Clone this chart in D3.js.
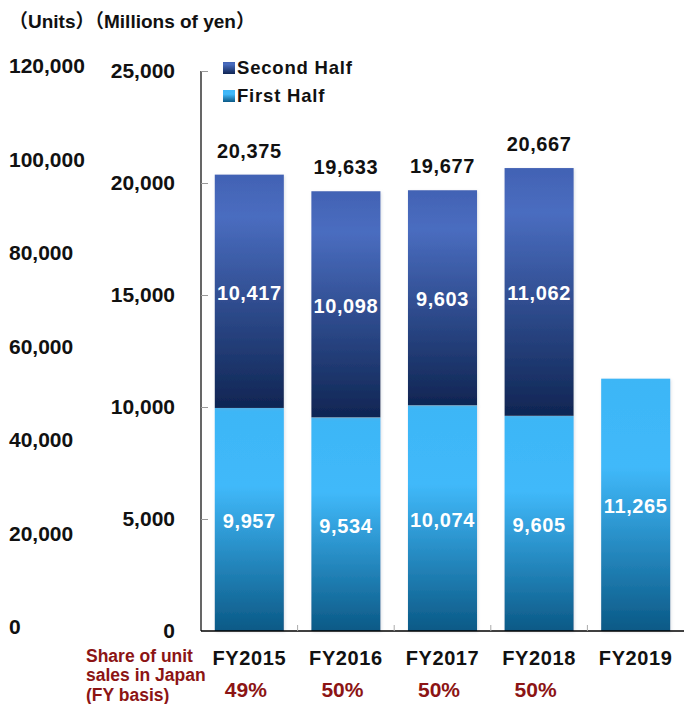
<!DOCTYPE html>
<html>
<head>
<meta charset="utf-8">
<script src="https://cdn.jsdelivr.net/npm/d3@7"></script>
<style>
  html, body { margin: 0; padding: 0; background: #fff; }
  svg { display: block; font-family: "Liberation Sans", Arial, "Noto Sans CJK JP", sans-serif; font-weight: bold; }
</style>
</head>
<body>
<svg id="chart" width="684" height="704"></svg>
<script>
// Fiscal-year sales, in millions of yen, split by half year
const fiscalYears = ["FY2015", "FY2016", "FY2017", "FY2018", "FY2019"];
const firstHalf  = [9957, 9534, 10074, 9605, 11265];
const secondHalf = [10417, 10098, 9603, 11062, null];
const fullYear   = [20375, 19633, 19677, 20667, null];
const japanShare = ["49%", "50%", "50%", "50%", null];

const yenTicks  = [0, 5000, 10000, 15000, 20000, 25000];
const unitTicks = [0, 20000, 40000, 60000, 80000, 100000, 120000];

const seriesNames = ["Second Half", "First Half"];

const svg = d3.select("#chart");
const fmt = d3.format(",");
const darkRed = "#8c1414";
const fontStack = "'Liberation Sans', Arial, 'Noto Sans CJK JP', sans-serif";

// Gradients and soft bar shadow
const defs = svg.append("defs");
const gSecond = defs.append("linearGradient").attr("id", "gradSecond")
  .attr("x1", 0).attr("y1", 0).attr("x2", 0).attr("y2", 1);
gSecond.append("stop").attr("offset", "0%").attr("stop-color", "#4262b4");
gSecond.append("stop").attr("offset", "18%").attr("stop-color", "#4a6dc0");
gSecond.append("stop").attr("offset", "100%").attr("stop-color", "#0f2553");

const gFirst = defs.append("linearGradient").attr("id", "gradFirst")
  .attr("x1", 0).attr("y1", 0).attr("x2", 0).attr("y2", 1);
gFirst.append("stop").attr("offset", "0%").attr("stop-color", "#3db6f6");
gFirst.append("stop").attr("offset", "35%").attr("stop-color", "#40b9fa");
gFirst.append("stop").attr("offset", "100%").attr("stop-color", "#0b5986");

const shadow = defs.append("filter").attr("id", "barShadow")
  .attr("x", "-20%").attr("y", "-5%").attr("width", "140%").attr("height", "110%");
shadow.append("feDropShadow").attr("dx", 1).attr("dy", 1)
  .attr("stdDeviation", 1.5).attr("flood-color", "#9aaabb").attr("flood-opacity", 0.35);

// Scales
const x = d3.scaleBand().domain(fiscalYears).range([201, 684])
  .paddingInner(0.285).paddingOuter(0.1425);
const y = d3.scaleLinear().domain([0, 25000]).range([631, 71]);
const yUnits = d3.scaleLinear().domain([0, 120000]).range([627, 66]);

// Header
svg.append("text").attr("x", 9).attr("y", 28)
  .attr("font-size", 19).attr("fill", "#111")
  .text("（Units）（Millions of yen）");

// Units axis (labels only)
const unitAxis = svg.append("g")
  .call(d3.axisLeft(yUnits).tickValues(unitTicks).tickSize(0).tickFormat(fmt))
  .attr("font-family", fontStack).attr("font-size", 21);
unitAxis.select(".domain").remove();
unitAxis.selectAll("text")
  .attr("x", 9).attr("text-anchor", "start").attr("fill", "#111");

// Yen axis
const yenAxis = svg.append("g").attr("transform", "translate(201,0)")
  .call(d3.axisRight(y).tickValues(yenTicks).tickSize(7).tickFormat(fmt))
  .attr("font-family", fontStack).attr("font-size", 21);
yenAxis.select(".domain").attr("stroke", "#000").attr("stroke-width", 1.2).attr("d", "M0,71V631");
yenAxis.selectAll(".tick line").attr("stroke", "#999");
yenAxis.selectAll(".tick text")
  .attr("x", -26).attr("text-anchor", "end").attr("fill", "#111");
yenAxis.selectAll(".tick").filter(d => d === 0).select("line").remove();

// Bars
const bars = svg.append("g");
fiscalYears.forEach((fy, i) => {
  const bx = x(fy), bw = x.bandwidth();
  const f = firstHalf[i], s = secondHalf[i];
  bars.append("rect")
    .attr("x", bx).attr("y", y(f)).attr("width", bw).attr("height", y(0) - y(f))
    .attr("fill", "url(#gradFirst)").attr("filter", "url(#barShadow)");
  if (s != null) {
    bars.append("rect")
      .attr("x", bx).attr("y", y(f + s)).attr("width", bw).attr("height", y(f) - y(f + s))
      .attr("fill", "url(#gradSecond)").attr("filter", "url(#barShadow)");
  }
});

// Bottom axis
const xAxis = svg.append("g").attr("transform", "translate(0,631)");
xAxis.append("line").attr("x1", 201).attr("x2", 684).attr("y1", 0).attr("y2", 0)
  .attr("stroke", "#000").attr("stroke-width", 1.5);
xAxis.selectAll("line.sep").data(fiscalYears.slice(1))
  .join("line").attr("class", "sep")
  .attr("x1", d => x(d) - x.step() * x.paddingInner() / 2)
  .attr("x2", d => x(d) - x.step() * x.paddingInner() / 2)
  .attr("y1", 0).attr("y2", -6).attr("stroke", "#aaa");

// Segment labels
const labels = svg.append("g").attr("text-anchor", "middle").attr("font-size", 20)
  .attr("letter-spacing", 0.6);
fiscalYears.forEach((fy, i) => {
  const cx = x(fy) + x.bandwidth() / 2;
  const f = firstHalf[i], s = secondHalf[i];
  labels.append("text").attr("x", cx).attr("y", (y(0) + y(f)) / 2 + 8.5)
    .attr("fill", "#fff").text(fmt(f));
  if (s != null) {
    labels.append("text").attr("x", cx).attr("y", (y(f) + y(f + s)) / 2 + 8.5)
      .attr("fill", "#fff").text(fmt(s));
  }
  if (fullYear[i] != null) {
    labels.append("text").attr("x", cx).attr("y", y(fullYear[i]) - 17)
      .attr("fill", "#111").text(fmt(fullYear[i]));
  }
  labels.append("text").attr("x", cx).attr("y", 665)
    .attr("fill", "#111").text(fy);
  if (japanShare[i] != null) {
    labels.append("text").attr("x", cx - 3.5).attr("y", 697)
      .attr("font-size", 21).attr("letter-spacing", 0)
      .attr("fill", darkRed).text(japanShare[i]);
  }
});

// Share caption
const caption = svg.append("text").attr("font-size", 17.5).attr("fill", darkRed);
["Share of unit", "sales in Japan", "(FY basis)"].forEach((t, k) => {
  caption.append("tspan").attr("x", 86).attr("y", 661.5 + k * 19.5).text(t);
});

// Legend
const legend = svg.append("g");
seriesNames.forEach((name, k) => {
  const ly = 62 + k * 28;
  legend.append("rect").attr("x", 223).attr("y", ly).attr("width", 12).attr("height", 12)
    .attr("fill", k === 0 ? "url(#gradSecond)" : "url(#gradFirst)");
  legend.append("text").attr("x", 237).attr("y", ly + 12)
    .attr("font-size", 18.5).attr("letter-spacing", 0.8).attr("fill", "#111").text(name);
});
</script>
</body>
</html>
